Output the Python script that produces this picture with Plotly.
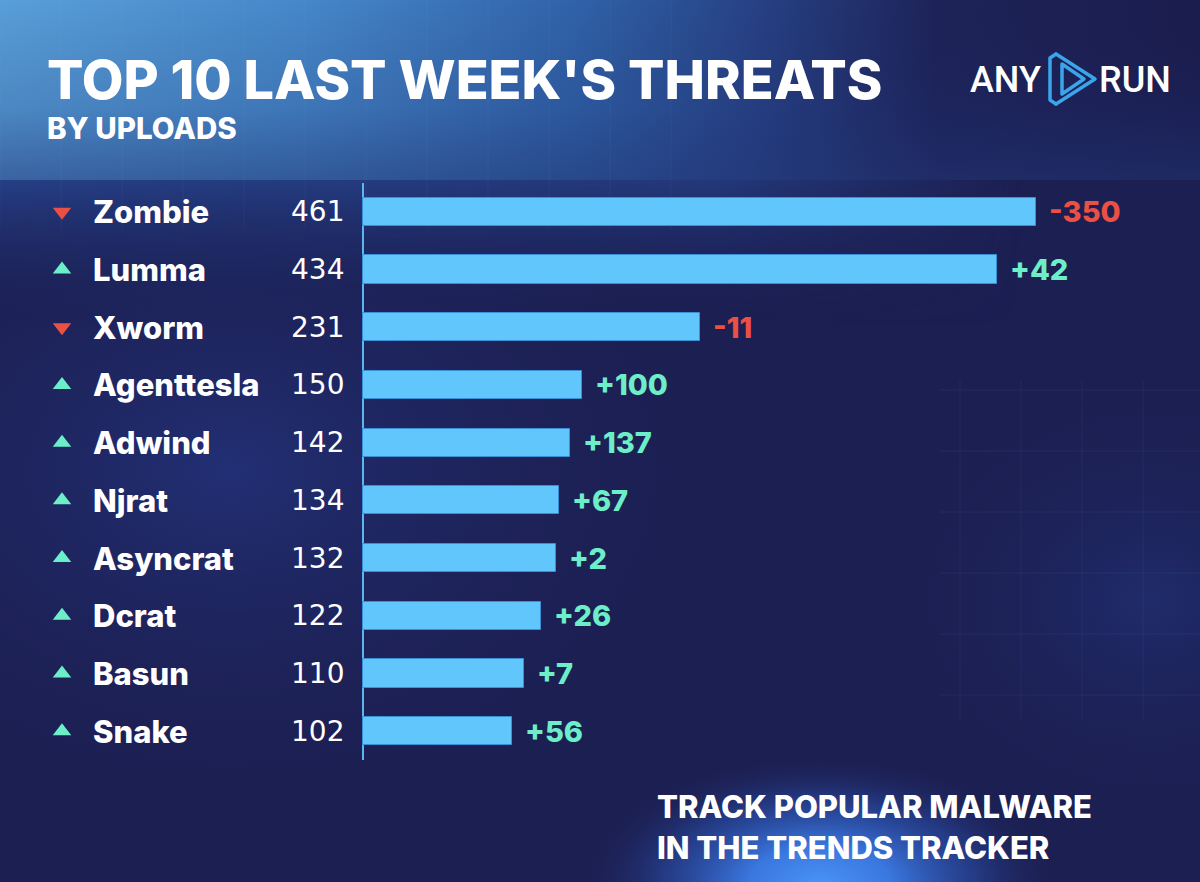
import base64
import plotly.graph_objects as go

# ---------------- data ----------------
names = ["Zombie", "Lumma", "Xworm", "Agenttesla", "Adwind",
         "Njrat", "Asyncrat", "Dcrat", "Basun", "Snake"]
uploads = [461, 434, 231, 150, 142, 134, 132, 122, 110, 102]
changes = [-350, 42, -11, 100, 137, 67, 2, 26, 7, 56]

title_text = "TOP 10 LAST WEEK'S THREATS"
subtitle_text = "BY UPLOADS"
footer_lines = ["TRACK POPULAR MALWARE", "IN THE TRENDS TRACKER"]

# ---------------- style ----------------
W, H = 1200, 882
RED = "#ea5044"
GREEN = "#6cefc9"
BAR = "#60c6fb"
AXIS = "#5ab6ee"
FONT = "Inter, 'Open Sans', 'DejaVu Sans', sans-serif"
NUM_FONT = "'DejaVu Sans', Inter, sans-serif"
LOGO_FONT = "Roboto, 'DejaVu Sans', sans-serif"

X0_PX = 363          # pixel where value 0 sits
PX_PER_UNIT = 1.46   # horizontal scale
x_lo = -X0_PX / PX_PER_UNIT
x_hi = (W - X0_PX) / PX_PER_UNIT


def px2x(px):
    return (px - X0_PX) / PX_PER_UNIT


rows = list(range(len(names)))
up_down = ["triangle-down" if c < 0 else "triangle-up" for c in changes]
ch_colors = [RED if c < 0 else GREEN for c in changes]
ch_text = [f"+{c}" if c >= 0 else f"-{abs(c)}" for c in changes]

# ---------------- background (decoration only) ----------------
grid = []
for gx in range(960, 1200, 61):
    grid.append(f"<line x1='{gx}' y1='380' x2='{gx}' y2='720' stroke='#7fa6ff' stroke-opacity='0.08' stroke-width='1'/>")
for gy in range(390, 720, 61):
    grid.append(f"<line x1='940' y1='{gy}' x2='1200' y2='{gy}' stroke='#7fa6ff' stroke-opacity='0.09' stroke-width='1'/>")
for gx in range(0, 700, 61):
    grid.append(f"<line x1='{gx}' y1='0' x2='{gx}' y2='230' stroke='#9fc4ff' stroke-opacity='0.05' stroke-width='1'/>")

svg = f"""<svg xmlns='http://www.w3.org/2000/svg' width='{W}' height='{H}' viewBox='0 0 {W} {H}'>
<defs>
<linearGradient id='top' x1='0' y1='0' x2='1' y2='0'>
 <stop offset='0' stop-color='#589fd9'/>
 <stop offset='0.25' stop-color='#4688ca'/>
 <stop offset='0.48' stop-color='#3062a9'/>
 <stop offset='0.64' stop-color='#263f82'/>
 <stop offset='0.78' stop-color='#1d2358'/>
 <stop offset='1' stop-color='#1b1d4e'/>
</linearGradient>
<linearGradient id='topv' x1='0' y1='0' x2='0' y2='1'>
 <stop offset='0' stop-color='#1b1d4e' stop-opacity='0'/>
 <stop offset='0.6' stop-color='#1d2d6e' stop-opacity='0.2'/>
 <stop offset='1' stop-color='#213473' stop-opacity='0.55'/>
</linearGradient>
<linearGradient id='fade' x1='0' y1='0' x2='0' y2='1'>
 <stop offset='0' stop-color='#27448c' stop-opacity='0.9'/>
 <stop offset='0.35' stop-color='#22387c' stop-opacity='0.6'/>
 <stop offset='1' stop-color='#1c2256' stop-opacity='0'/>
</linearGradient>
<linearGradient id='fadeh' x1='0' y1='0' x2='1' y2='0'>
 <stop offset='0' stop-color='white' stop-opacity='1'/>
 <stop offset='0.6' stop-color='white' stop-opacity='0.8'/>
 <stop offset='0.85' stop-color='white' stop-opacity='0'/>
</linearGradient>
<mask id='fmask'><rect x='0' y='0' width='{W}' height='{H}' fill='url(#fadeh)'/></mask>
<radialGradient id='left' cx='0.5' cy='0.5' r='0.5'>
 <stop offset='0' stop-color='#243580' stop-opacity='0.75'/>
 <stop offset='1' stop-color='#1c1f52' stop-opacity='0'/>
</radialGradient>
<radialGradient id='glow' cx='0.5' cy='0.5' r='0.5'>
 <stop offset='0' stop-color='#4a94f8' stop-opacity='1'/>
 <stop offset='0.3' stop-color='#3b7be6' stop-opacity='0.95'/>
 <stop offset='0.65' stop-color='#2b52b0' stop-opacity='0.55'/>
 <stop offset='1' stop-color='#1d2458' stop-opacity='0'/>
</radialGradient>
<radialGradient id='glow2' cx='0.5' cy='0.5' r='0.5'>
 <stop offset='0' stop-color='#26439a' stop-opacity='0.35'/>
 <stop offset='1' stop-color='#1d2458' stop-opacity='0'/>
</radialGradient>
</defs>
<rect x='0' y='0' width='{W}' height='{H}' fill='#1c1f52'/>
<ellipse cx='230' cy='470' rx='520' ry='360' fill='url(#left)'/>
<ellipse cx='1150' cy='600' rx='260' ry='220' fill='url(#glow2)'/>
<rect x='0' y='176' width='{W}' height='150' fill='url(#fade)' mask='url(#fmask)'/>
<rect x='0' y='0' width='{W}' height='180' fill='url(#top)'/>
<rect x='0' y='0' width='{W}' height='180' fill='url(#topv)'/>
<ellipse cx='820' cy='885' rx='240' ry='130' fill='url(#glow)'/>
{''.join(grid)}
<g fill='none' stroke='#3aa5ea' stroke-width='3.5' stroke-linejoin='round' stroke-linecap='round'>
 <path d='M1056,54 L1095,79 L1056,104'/>
 <path d='M1056,54 L1050,58 L1050,100 L1056,104'/>
 <path d='M1062,64 L1084,79 L1062,94 Z'/>
</g>
</svg>"""
bg_uri = "data:image/svg+xml;base64," + base64.b64encode(svg.encode()).decode()

# ---------------- figure ----------------
fig = go.Figure()

fig.add_trace(go.Bar(
    x=uploads, y=rows, orientation="h", width=0.49,
    marker=dict(color=BAR, line=dict(color="#3a8fd6", width=1)),
    hoverinfo="skip", showlegend=False,
))

fig.add_trace(go.Scatter(
    x=[px2x(62)] * len(rows), y=rows, mode="markers",
    marker=dict(symbol=up_down, color=ch_colors, size=16, line=dict(width=0)),
    hoverinfo="skip", showlegend=False,
))

annotations = []
for i, (n, u, t, col) in enumerate(zip(names, uploads, ch_text, ch_colors)):
    annotations.append(dict(x=px2x(91), y=i, xref="x", yref="y", text=n,
                            xanchor="left", yanchor="middle", showarrow=False,
                            font=dict(family=FONT, size=31, color="white", weight=800)))
    annotations.append(dict(x=px2x(346), y=i, xref="x", yref="y", text=str(u),
                            xanchor="right", yanchor="middle", showarrow=False,
                            font=dict(family=NUM_FONT, size=28, color="white")))
    annotations.append(dict(x=u, y=i, xref="x", yref="y", text=t, xshift=11,
                            xanchor="left", yanchor="middle", showarrow=False,
                            font=dict(family=FONT, size=29, color=col, weight=800)))

annotations += [
    dict(x=45 / W, y=1 - 79 / H, xref="paper", yref="paper", text=title_text,
         xanchor="left", yanchor="middle", showarrow=False,
         font=dict(family=FONT, size=54, color="white", weight=800)),
    dict(x=45 / W, y=1 - 128 / H, xref="paper", yref="paper", text=subtitle_text,
         xanchor="left", yanchor="middle", showarrow=False,
         font=dict(family=FONT, size=29.5, color="white", weight=800)),
    dict(x=655 / W, y=1 - 806 / H, xref="paper", yref="paper", text=footer_lines[0],
         xanchor="left", yanchor="middle", showarrow=False,
         font=dict(family=FONT, size=31, color="white", weight=800)),
    dict(x=655 / W, y=1 - 847 / H, xref="paper", yref="paper", text=footer_lines[1],
         xanchor="left", yanchor="middle", showarrow=False,
         font=dict(family=FONT, size=31, color="white", weight=800)),
    dict(x=1043 / W, y=1 - 80 / H, xref="paper", yref="paper", text="ANY",
         xanchor="right", yanchor="middle", showarrow=False,
         font=dict(family=LOGO_FONT, size=36, color="white", weight=500)),
    dict(x=1097 / W, y=1 - 80 / H, xref="paper", yref="paper", text="RUN",
         xanchor="left", yanchor="middle", showarrow=False,
         font=dict(family=LOGO_FONT, size=36, color="white", weight=500)),
]

fig.update_layout(
    width=W, height=H,
    margin=dict(l=0, r=0, t=0, b=0),
    paper_bgcolor="#1c1f52",
    plot_bgcolor="rgba(0,0,0,0)",
    showlegend=False,
    bargap=0,
    annotations=annotations,
    images=[dict(source=bg_uri, xref="paper", yref="paper", x=0, y=1,
                 sizex=1, sizey=1, sizing="stretch", layer="below")],
    xaxis=dict(domain=[0, 1], range=[x_lo, x_hi], showgrid=False,
               showticklabels=False, ticks="", zeroline=True,
               zerolinecolor=AXIS, zerolinewidth=1.5, fixedrange=True),
    yaxis=dict(domain=[(H - 760) / H, (H - 183) / H], range=[9.5, -0.5],
               showgrid=False, showticklabels=False, ticks="", zeroline=False,
               fixedrange=True),
)

fig.write_html("out.html", config=dict(displayModeBar=False))
